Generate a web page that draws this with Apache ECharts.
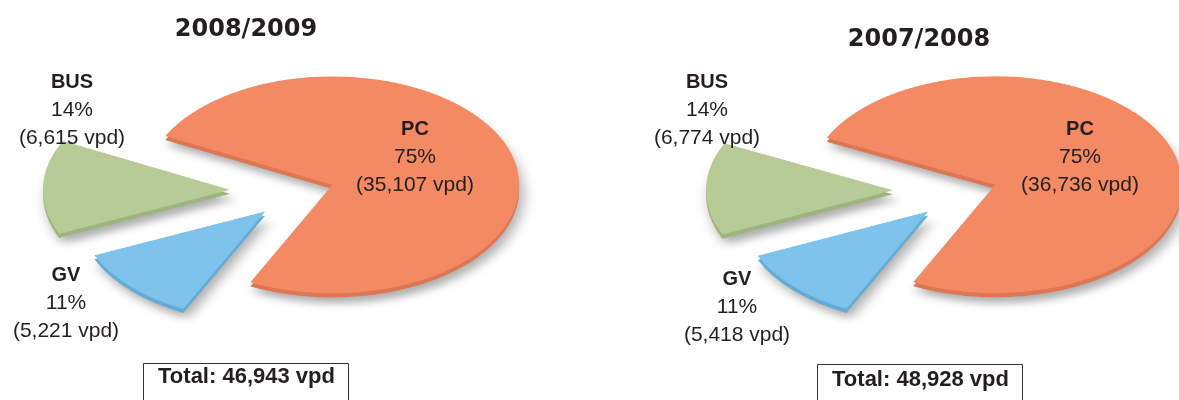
<!DOCTYPE html>
<html>
<head>
<meta charset="utf-8">
<script src="https://cdn.jsdelivr.net/npm/echarts@6/dist/echarts.min.js"></script>
<style>
html, body { margin: 0; padding: 0; background: #fff; }
#wrap { position: relative; width: 1179px; height: 400px; overflow: hidden; }
/* the pies are drawn round and squashed to look tilted */
#pies { position: absolute; left: 0; top: 0; width: 1179px; height: 690px; transform: scaleY(0.58); transform-origin: 0 0; }
#texts { position: absolute; left: 0; top: 0; width: 1179px; height: 400px; }
</style>
</head>
<body>
<div id="wrap"><div id="pies"></div><div id="texts"></div></div>
<script>
var categories = ['PC', 'BUS', 'GV'];
var years = ['2008/2009', '2007/2008'];
var vpd0809 = [35107, 6615, 5221];
var vpd0708 = [36736, 6774, 5418];

var colors = ['#F38A64', '#B6CB95', '#7EC3EB'];
var sideColors = ['#DD7652', '#9DB47E', '#66ABD5'];
var textColor = '#231F20';
// how far each slice is pulled out of the pie
var explode = [32, 72, 51];

// layout of each panel (screen px)
var panels = [
  { title: years[0], values: vpd0809, cx: 302, titleX: 246, titleY: 30,
    labelPos: [[415, 157], [72, 110], [66, 303]], boxX: 143, boxY: 363, boxW: 205, totalY: 377 },
  { title: years[1], values: vpd0708, cx: 965, titleX: 919, titleY: 40,
    labelPos: [[1080, 157], [707, 110], [737, 307]], boxX: 817, boxY: 364, boxW: 205, totalY: 380 }
];
var pieCy = 329; // centre in the unscaled pie layer

var pieChart = echarts.init(document.getElementById('pies'));
var textChart = echarts.init(document.getElementById('texts'));

// one series per slice so every slice gets its own offset
function sliceData(values, k, palette) {
  return values.map(function (v, i) {
    return {
      name: categories[i], value: v, selected: i === k,
      itemStyle: i === k ? { color: palette[i] } : { color: palette[i], opacity: 0 }
    };
  });
}

var series = [];
panels.forEach(function (p) {
  categories.forEach(function (c, k) {
    var common = {
      type: 'pie',
      radius: 187,
      startAngle: -116,
      clockwise: false,
      selectedMode: 'multiple',
      selectedOffset: explode[k],
      label: { show: false },
      labelLine: { show: false },
      emphasis: { disabled: true },
      silent: true,
      animation: false
    };
    // darker copy underneath gives the slices some thickness
    series.push(Object.assign({}, common, {
      center: [p.cx, pieCy + 7],
      z: 1,
      itemStyle: { shadowBlur: 14, shadowColor: 'rgba(0,0,0,0.32)', shadowOffsetX: 4, shadowOffsetY: 10 },
      data: sliceData(p.values, k, sideColors)
    }));
    series.push(Object.assign({}, common, {
      center: [p.cx, pieCy],
      z: 2,
      data: sliceData(p.values, k, colors)
    }));
  });
});

pieChart.setOption({ animation: false, series: series });

var graphics = [];
panels.forEach(function (p) {
  var total = p.values.reduce(function (a, b) { return a + b; }, 0);
  graphics.push({
    type: 'text', x: p.titleX, y: p.titleY,
    style: { text: p.title, font: 'bold 24px "DejaVu Sans"', fill: textColor, align: 'center', verticalAlign: 'middle' }
  });
  categories.forEach(function (c, i) {
    var pct = Math.round(p.values[i] / total * 100);
    graphics.push({
      type: 'text', x: p.labelPos[i][0], y: p.labelPos[i][1],
      style: {
        text: '{b|' + c + '}\n{n|' + pct + '%}\n{n|(' + echarts.format.addCommas(p.values[i]) + ' vpd)}',
        align: 'center', verticalAlign: 'middle',
        rich: {
          b: { fontFamily: 'Liberation Sans', fontWeight: 'bold', fontSize: 20, lineHeight: 28, fill: textColor, align: 'center' },
          n: { fontFamily: 'Liberation Sans', fontSize: 21, lineHeight: 28, fill: textColor, align: 'center' }
        }
      }
    });
  });
  graphics.push({
    type: 'rect',
    shape: { x: p.boxX + 0.5, y: p.boxY + 0.5, width: p.boxW, height: 60 },
    style: { fill: '#fff', stroke: '#333', lineWidth: 1 }
  });
  graphics.push({
    type: 'text', x: p.boxX + p.boxW / 2 + 1, y: p.totalY,
    style: { text: 'Total: ' + echarts.format.addCommas(total) + ' vpd', font: 'bold 22px "Liberation Sans"', fill: textColor, align: 'center', verticalAlign: 'middle' }
  });
});

textChart.setOption({ animation: false, graphic: graphics });
</script>
</body>
</html>
